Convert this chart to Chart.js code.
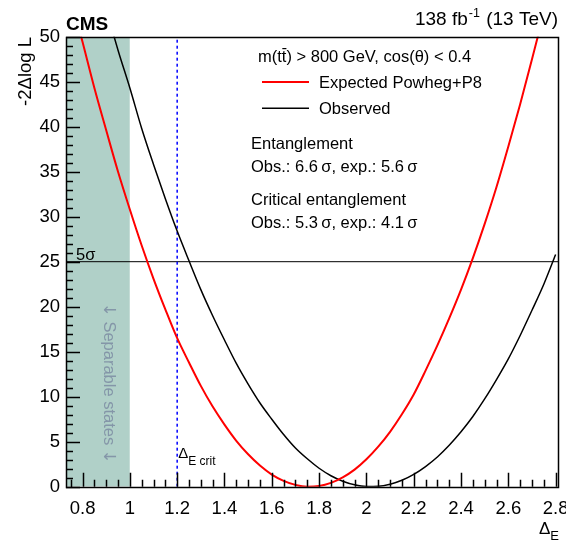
<!DOCTYPE html>
<html>
<head>
<meta charset="utf-8">
<script src="https://cdn.jsdelivr.net/npm/chart.js@4"></script>
<style>
  body { margin: 0; background: #fff; }
  #wrap { width: 566px; height: 540px; position: relative; }
</style>
</head>
<body>
<div id="wrap"><canvas id="chart"></canvas></div>
<script>
// axis limits and tick labels
const xLimits = [0.73, 2.81];
const yLimits = [0, 50];
const xTickValues = [0.8, 1, 1.2, 1.4, 1.6, 1.8, 2, 2.2, 2.4, 2.6, 2.8];
const yTickValues = [0, 5, 10, 15, 20, 25, 30, 35, 40, 45, 50];

// Expected Powheg+P8 scan
const expX = [0.78, 0.80, 0.85, 0.90, 0.95, 1.00, 1.05, 1.10, 1.15, 1.20, 1.25, 1.30, 1.35, 1.40,
  1.45, 1.50, 1.55, 1.60, 1.65, 1.70, 1.75, 1.80, 1.85, 1.90, 1.95, 2.00, 2.05, 2.10, 2.15, 2.20,
  2.25, 2.30, 2.35, 2.40, 2.45, 2.50, 2.55, 2.60, 2.65, 2.70, 2.75];
const expVals = [51.4, 49.4, 44.3, 39.6, 35.0, 30.8, 26.8, 23.1, 19.7, 16.5, 13.8, 11.2, 8.9, 6.9,
  5.1, 3.6, 2.35, 1.35, 0.65, 0.2, 0.0, 0.08, 0.43, 1.04, 1.9, 3.05, 4.45, 6.1, 8.05, 10.25,
  12.9, 15.7, 18.7, 21.9, 25.4, 29.2, 33.3, 37.8, 42.5, 47.5, 52.6];

// Observed scan
const obsX = [0.90, 0.95, 1.00, 1.05, 1.10, 1.15, 1.20, 1.25, 1.30, 1.35, 1.40, 1.45, 1.50, 1.55,
  1.60, 1.65, 1.70, 1.75, 1.80, 1.85, 1.90, 1.95, 2.00, 2.05, 2.10, 2.15, 2.20, 2.25, 2.30, 2.35,
  2.40, 2.45, 2.50, 2.55, 2.60, 2.65, 2.70, 2.75, 2.80];
const obsVals = [53.1, 48.5, 44.3, 39.8, 35.8, 32.0, 28.4, 25.1, 21.9, 19.0, 16.3, 13.7, 11.4, 9.3,
  7.5, 5.8, 4.3, 3.1, 2.05, 1.22, 0.61, 0.21, 0.02, 0.04, 0.27, 0.71, 1.37, 2.24, 3.3, 4.6,
  6.1, 7.8, 9.75, 11.9, 14.2, 16.8, 19.6, 22.5, 25.8];

const separableEdge = 1.0;   // separable states below this
const critEntanglement = 1.2; // Delta_E crit
const fiveSigma = 25;

const FONT = '"Liberation Sans", Arial, Helvetica, sans-serif';

const toPts = (xs, ys) => xs.map((x, i) => ({ x, y: ys[i] }));

function txt(ctx, s, x, y, size, opts = {}) {
  ctx.font = (opts.bold ? 'bold ' : '') + size + 'px ' + (opts.family || FONT);
  ctx.fillStyle = opts.color || '#000';
  ctx.textAlign = opts.align || 'left';
  ctx.textBaseline = 'alphabetic';
  ctx.fillText(s, x, y);
  return ctx.measureText(s).width;
}

const decorations = {
  id: 'decorations',
  afterDraw(chart) {
    const { ctx, chartArea: a, scales: { x, y } } = chart;

    // ticks inside the frame
    ctx.save();
    ctx.strokeStyle = '#000000';
    ctx.lineWidth = 1.5;
    ctx.beginPath();
    for (let i = 15; i <= 56; i++) {
      const px = Math.round(x.getPixelForValue(i * 0.05)) + 0.5;
      const len = i % 4 === 0 ? 14 : 7;
      ctx.moveTo(px, a.bottom);
      ctx.lineTo(px, a.bottom - len);
    }
    for (let i = 0; i <= 50; i++) {
      const py = Math.round(y.getPixelForValue(i)) + 0.5;
      const len = i % 5 === 0 ? 14 : 7;
      ctx.moveTo(a.left, py);
      ctx.lineTo(a.left + len, py);
    }
    ctx.stroke();
    // frame
    ctx.strokeRect(Math.round(a.left) + 0.5, Math.round(a.top) + 0.5,
      Math.round(a.right - a.left), Math.round(a.bottom - a.top));
    ctx.restore();

    ctx.save();
    // separable states label, rotated
    ctx.save();
    ctx.translate(104, 303);
    ctx.rotate(Math.PI / 2);
    const grey = '#8496a8';
    let sx = 0;
    sx += txt(ctx, '\u2193', sx, 0, 16.5, { color: grey, family: '"DejaVu Sans", sans-serif' });
    sx += txt(ctx, ' Separable states ', sx, 0, 16.5, { color: grey });
    txt(ctx, '\u2193', sx, 0, 16.5, { color: grey, family: '"DejaVu Sans", sans-serif' });
    ctx.restore();

    // header texts
    txt(ctx, 'CMS', 66, 30, 19, { bold: true });
    const w2 = txt(ctx, ' (13 TeV)', 558, 25, 19, { align: 'right' });
    ctx.font = '12.5px ' + FONT;
    const wSup = ctx.measureText('-1').width;
    txt(ctx, '-1', 558 - w2 - 1, 17, 12.5, { align: 'right' });
    txt(ctx, '138 fb', 558 - w2 - wSup - 2, 25, 19, { align: 'right' });

    // y title
    ctx.save();
    ctx.translate(31, 37);
    ctx.rotate(-Math.PI / 2);
    txt(ctx, '-2\u0394log L', 0, 0, 18.5, { align: 'right' });
    ctx.restore();

    // x title
    let wd = txt(ctx, '\u0394', 539, 534, 17);
    txt(ctx, 'E', 539 + wd, 540, 13);

    // 5 sigma label
    txt(ctx, '5\u03c3', 76, 260, 16.5);

    // Delta_E crit
    const cx = x.getPixelForValue(critEntanglement) + 1;
    wd = txt(ctx, '\u0394', cx, 458, 15);
    txt(ctx, 'E crit', cx + wd, 465, 12);

    // legend header with tbar
    let lx = 258;
    lx += txt(ctx, 'm(t', lx, 62, 16.5);
    const tw = txt(ctx, 't', lx, 62, 16.5);
    ctx.fillStyle = '#000';
    ctx.fillRect(lx + 0.5, 48, tw - 0.5, 1.2);
    lx += tw;
    txt(ctx, ') > 800 GeV, cos(\u03b8) < 0.4', lx, 62, 16.5);

    ctx.fillStyle = '#ff0000';
    ctx.fillRect(262, 81, 47, 2);
    txt(ctx, 'Expected Powheg+P8', 319, 87.5, 16.5);
    ctx.fillStyle = '#000000';
    ctx.fillRect(262, 107.5, 47, 1.5);
    txt(ctx, 'Observed', 319, 113.5, 16.5);

    txt(ctx, 'Entanglement', 251, 148.5, 16.5);
    txt(ctx, 'Obs.: 6.6\u2009\u03c3, exp.: 5.6\u2009\u03c3', 251, 172, 16.5);
    txt(ctx, 'Critical entanglement', 251, 205, 16.5);
    txt(ctx, 'Obs.: 5.3\u2009\u03c3, exp.: 4.1\u2009\u03c3', 251, 228, 16.5);

    ctx.restore();
  }
};

const noPad = s => { s.paddingLeft = 0; s.paddingRight = 0; s.paddingTop = 0; s.paddingBottom = 0; };

new Chart(document.getElementById('chart'), {
  type: 'line',
  data: {
    datasets: [
      {
        label: 'Expected Powheg+P8',
        data: toPts(expX, expVals),
        borderColor: '#ff0000', borderWidth: 2,
        pointRadius: 0, cubicInterpolationMode: 'monotone', clip: 0, order: 1
      },
      {
        label: 'Observed',
        data: toPts(obsX, obsVals),
        borderColor: '#000000', borderWidth: 1.5,
        pointRadius: 0, cubicInterpolationMode: 'monotone', clip: 0, order: 2
      },
      {
        label: 'crit',
        data: [{ x: critEntanglement, y: yLimits[0] }, { x: critEntanglement, y: yLimits[1] }],
        borderColor: '#0000ff', borderWidth: 1.5, borderDash: [3, 3],
        pointRadius: 0, clip: 0, order: 3
      },
      {
        label: '5sigma',
        data: [{ x: xLimits[0], y: fiveSigma }, { x: xLimits[1], y: fiveSigma }],
        borderColor: '#000000', borderWidth: 1,
        pointRadius: 0, clip: 0, order: 4
      },
      {
        label: 'separable',
        data: [{ x: xLimits[0], y: yLimits[1] }, { x: separableEdge, y: yLimits[1] }],
        borderWidth: 0, backgroundColor: '#b0d0c8', fill: 'origin',
        pointRadius: 0, clip: 0, order: 10
      }
    ]
  },
  options: {
    responsive: true,
    maintainAspectRatio: false,
    animation: false,
    devicePixelRatio: 1,
    layout: { padding: { top: 36.7, right: 8, left: 0, bottom: 0 } },
    plugins: { legend: { display: false }, tooltip: { enabled: false } },
    scales: {
      x: {
        type: 'linear', min: xLimits[0], max: xLimits[1],
        grid: { display: false, drawTicks: false }, border: { display: false },
        afterBuildTicks: s => { s.ticks = xTickValues.map(v => ({ value: v })); },
        afterFit: s => { s.height = 53.3; noPad(s); },
        ticks: {
          autoSkip: false, maxRotation: 0, padding: 11, color: '#000',
          font: { family: FONT, size: 18.5 },
          callback: v => String(Math.round(v * 10) / 10)
        }
      },
      y: {
        type: 'linear', min: yLimits[0], max: yLimits[1],
        grid: { display: false, drawTicks: false }, border: { display: false },
        afterBuildTicks: s => { s.ticks = yTickValues.map(v => ({ value: v })); },
        afterFit: s => { s.width = 66; noPad(s); },
        ticks: {
          padding: 6, color: '#000',
          font: { family: FONT, size: 18.5 }
        }
      }
    }
  },
  plugins: [decorations]
});
</script>
</body>
</html>
